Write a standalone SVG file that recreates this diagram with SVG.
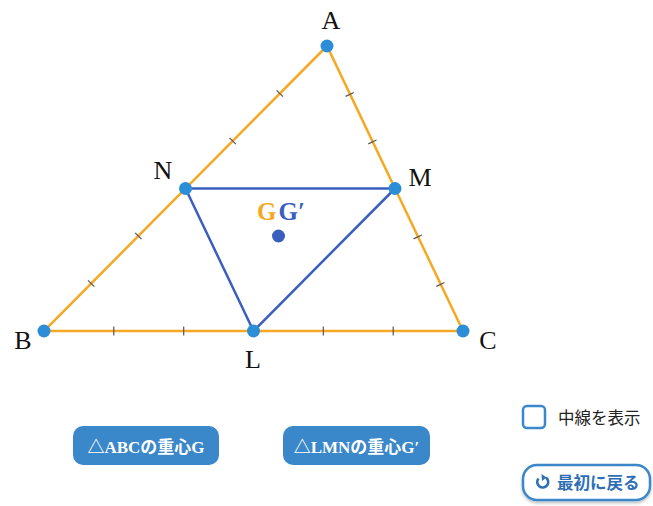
<svg xmlns="http://www.w3.org/2000/svg" width="653" height="506" viewBox="0 0 653 506">
<style>
.side{stroke:#f7a823;stroke-width:2.5;fill:none;stroke-linecap:round}
.tick{stroke:#555;stroke-width:1.2}
.inner{stroke:#3a5fbf;stroke-width:2.5;fill:none;stroke-linejoin:round}
.pt{fill:#2b8ed6}
.lbl{font-family:"Liberation Serif","Times New Roman",serif;font-size:26px;fill:#111;text-anchor:middle}
.btn{fill:#3a87c9}
.btxt{font-family:"Liberation Serif","Noto Sans CJK JP",serif;font-size:17px;font-weight:bold;fill:#fff;text-anchor:middle}
.ui{font-family:"Noto Sans CJK JP","Noto Sans",sans-serif;font-size:16.5px}
</style>
<defs>
<filter id="sh" x="-10%" y="-20%" width="120%" height="150%">
<feDropShadow dx="0" dy="2" stdDeviation="1.5" flood-color="#000" flood-opacity="0.25"/>
</filter>
</defs>
<rect width="653" height="506" fill="#fff"/>
<g id="connectors">
<path class="side" d="M327,46 L44,331 L463,331 Z"/>
<g class="tick">
<line x1="113.8" y1="326.5" x2="113.8" y2="335.5"/>
<line x1="183.7" y1="326.5" x2="183.7" y2="335.5"/>
<line x1="323.3" y1="326.5" x2="323.3" y2="335.5"/>
<line x1="393.2" y1="326.5" x2="393.2" y2="335.5"/>
<line x1="276.6" y1="90.3" x2="283.0" y2="96.7"/>
<line x1="229.5" y1="137.8" x2="235.9" y2="144.2"/>
<line x1="135.1" y1="232.8" x2="141.5" y2="239.2"/>
<line x1="88.0" y1="280.3" x2="94.4" y2="286.7"/>
<line x1="345.6" y1="96.4" x2="353.8" y2="92.5"/>
<line x1="368.3" y1="143.9" x2="376.5" y2="140.0"/>
<line x1="413.6" y1="238.9" x2="421.8" y2="235.0"/>
<line x1="436.3" y1="286.4" x2="444.5" y2="282.5"/>
</g>
<path class="inner" d="M185.5,188.5 L395,188.5 L253.5,331 Z"/>
</g>
<g id="A"><circle class="pt" cx="327" cy="46" r="6.5"/><text class="lbl" x="331" y="29">A</text></g>
<g id="B"><circle class="pt" cx="44" cy="331" r="6.5"/><text class="lbl" x="23" y="349">B</text></g>
<g id="C"><circle class="pt" cx="463" cy="331" r="6.5"/><text class="lbl" x="488" y="349">C</text></g>
<g id="N"><circle class="pt" cx="185.5" cy="188.5" r="6.5"/><text class="lbl" x="163" y="179">N</text></g>
<g id="M"><circle class="pt" cx="395" cy="188.5" r="6.5"/><text class="lbl" x="420" y="186">M</text></g>
<g id="L"><circle class="pt" cx="253.5" cy="331" r="6.5"/><text class="lbl" x="253" y="368">L</text></g>
<g id="G">
<circle cx="278.5" cy="236" r="6.5" fill="#3a5fbf"/>
<text x="257" y="220" font-family="Liberation Serif,serif" font-size="25" font-weight="bold"><tspan fill="#f7a823">G</tspan><tspan fill="#3a5fbf" dx="2">G′</tspan></text>
</g>
<g id="btnABC">
<rect class="btn" x="73" y="426" width="146" height="39" rx="10"/>
<text class="btxt" x="146" y="453">△ABCの重心G</text>
</g>
<g id="btnLMN">
<rect class="btn" x="283" y="426" width="147" height="39" rx="10"/>
<text class="btxt" x="356.5" y="453">△LMNの重心G′</text>
</g>
<g id="chk">
<rect x="523" y="406" width="22" height="22" rx="4" fill="#fff" stroke="#3a87c9" stroke-width="2.5"/>
<text class="ui" x="558" y="424" fill="#222">中線を表示</text>
</g>
<g id="reset">
<rect x="523" y="465" width="127" height="35" rx="14" fill="#fff" stroke="#3a87c9" stroke-width="2.5" filter="url(#sh)"/>
<path d="M538.5,478.5 A5.5,5.5 0 1 0 546,477.6" fill="none" stroke="#2f6fb5" stroke-width="2.6"/>
<path d="M541.5,474 L546.5,477.6 L542,481 Z" fill="#2f6fb5"/>
<text class="ui" x="557" y="489" fill="#2f6fb5" font-weight="bold">最初に戻る</text>
</g>
</svg>
